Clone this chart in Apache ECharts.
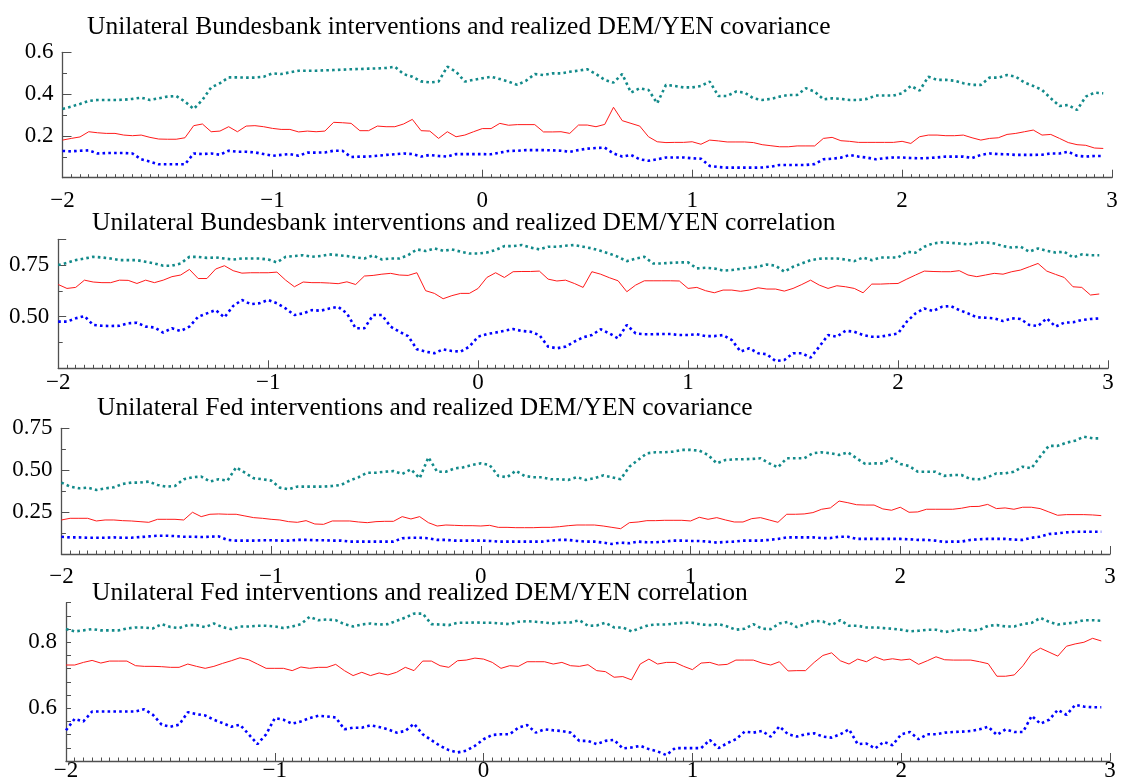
<!DOCTYPE html>
<html>
<head>
<meta charset="utf-8">
<script src="https://cdn.jsdelivr.net/npm/echarts@6/dist/echarts.min.js"></script>
<style>
html,body{margin:0;padding:0;background:#fff;}
#chart{width:1123px;height:782px;}
</style>
</head>
<body>
<div id="chart"></div>
<script>
// x positions: t = -2 + k/24, k = 0..119
const xStart = -2;
const xStep = 1 / 24;

const titles = [
  'Unilateral Bundesbank interventions and realized DEM/YEN covariance',
  'Unilateral Bundesbank interventions and realized DEM/YEN correlation',
  'Unilateral Fed interventions and realized DEM/YEN covariance',
  'Unilateral Fed interventions and realized DEM/YEN correlation'
];

const xTicks = [-2, -1, 0, 1, 2, 3];

// Panel 1: Bundesbank, covariance
const bbCovUpper = [0.329,0.340,0.353,0.367,0.372,0.372,0.372,0.373,0.377,0.383,
0.372,0.380,0.388,0.391,0.364,0.329,0.372,0.432,0.452,0.480,
0.480,0.479,0.479,0.483,0.499,0.496,0.504,0.512,0.512,0.512,
0.514,0.515,0.517,0.519,0.520,0.522,0.523,0.525,0.531,0.496,
0.483,0.461,0.456,0.460,0.531,0.507,0.460,0.468,0.476,0.483,
0.472,0.460,0.444,0.464,0.496,0.491,0.499,
0.499,0.507,0.512,0.519,0.496,0.468,0.455,0.496,0.407,0.428,
0.420,0.356,0.444,0.439,0.432,0.432,0.439,0.460,0.391,0.391,
0.412,0.407,0.380,0.372,0.377,0.388,0.396,0.396,0.428,0.412,
0.375,0.380,0.377,0.372,0.372,0.377,0.393,0.393,0.393,0.404,
0.439,0.417,0.483,0.468,0.468,0.464,0.452,0.444,0.444,0.479,
0.479,0.491,0.483,0.455,0.439,0.420,0.380,0.343,0.348,0.324,
0.388,0.407,0.404];
const bbCovMid = [0.180,0.188,0.195,0.220,0.215,0.212,0.212,0.204,0.201,0.204,
0.193,0.185,0.184,0.184,0.191,0.249,0.257,0.220,0.223,0.244,
0.220,0.247,0.249,0.244,0.236,0.231,0.231,0.219,0.223,0.220,
0.223,0.265,0.263,0.260,0.225,0.225,0.247,0.244,0.244,0.257,
0.279,0.225,0.223,0.188,0.220,0.196,0.204,0.220,0.235,0.235,
0.260,0.251,0.254,0.254,0.254,0.219,0.219,
0.220,0.212,0.252,0.252,0.244,0.255,0.337,0.273,0.260,0.247,
0.196,0.172,0.168,0.169,0.169,0.172,0.160,0.180,0.176,0.171,
0.171,0.171,0.168,0.158,0.153,0.148,0.148,0.152,0.152,0.152,
0.188,0.193,0.177,0.174,0.169,0.169,0.169,0.169,0.169,0.174,
0.164,0.196,0.204,0.204,0.201,0.201,0.204,0.191,0.180,0.188,
0.191,0.207,0.212,0.220,0.228,0.204,0.207,0.188,0.168,0.158,
0.155,0.142,0.140];
const bbCovLower = [0.128,0.126,0.129,0.131,0.116,0.118,0.118,0.118,0.116,0.088,
0.077,0.064,0.064,0.064,0.064,0.116,0.113,0.116,0.110,0.129,
0.124,0.124,0.121,0.113,0.105,0.109,0.113,0.105,0.120,0.120,
0.121,0.129,0.129,0.099,0.101,0.101,0.105,0.109,0.112,0.116,
0.113,0.101,0.109,0.104,0.101,0.113,0.113,0.113,0.113,0.112,
0.120,0.128,0.129,0.132,0.132,0.132,0.131,
0.129,0.124,0.132,0.139,0.142,0.144,0.116,0.101,0.109,0.088,
0.081,0.088,0.097,0.097,0.097,0.093,0.091,0.056,0.051,0.048,
0.048,0.048,0.048,0.049,0.053,0.061,0.061,0.061,0.061,0.065,
0.088,0.091,0.096,0.109,0.101,0.096,0.088,0.093,0.097,0.097,
0.094,0.093,0.094,0.097,0.101,0.101,0.101,0.094,0.109,0.116,
0.113,0.112,0.109,0.109,0.109,0.110,0.116,0.116,0.124,0.105,
0.101,0.104,0.104];

// Panel 2: Bundesbank, correlation
const bbCorUpper = [0.750,0.761,0.774,0.782,0.790,0.787,0.782,0.774,0.774,0.774,
0.766,0.758,0.747,0.747,0.758,0.790,0.790,0.785,0.787,0.782,
0.777,0.782,0.782,0.782,0.777,0.763,0.790,0.794,0.798,0.790,
0.794,0.802,0.798,0.794,0.787,0.782,0.797,0.777,0.782,0.782,
0.798,0.826,0.818,0.831,0.819,0.826,0.815,0.806,0.806,0.811,
0.823,0.842,0.842,0.847,0.835,0.826,0.839,
0.839,0.844,0.847,0.839,0.831,0.819,0.806,0.790,0.769,0.782,
0.790,0.758,0.758,0.761,0.763,0.763,0.734,0.737,0.734,0.723,
0.726,0.732,0.737,0.742,0.753,0.747,0.718,0.742,0.758,0.774,
0.781,0.782,0.782,0.777,0.769,0.787,0.774,0.787,0.787,0.787,
0.815,0.810,0.839,0.855,0.860,0.858,0.855,0.850,0.858,0.860,
0.855,0.842,0.835,0.839,0.815,0.831,0.819,0.811,0.815,0.787,
0.802,0.798,0.798];
const bbCorMid = [0.656,0.637,0.642,0.677,0.668,0.665,0.665,0.677,0.676,0.661,
0.677,0.665,0.677,0.694,0.702,0.729,0.685,0.685,0.731,0.747,
0.723,0.711,0.713,0.713,0.713,0.716,0.677,0.645,0.668,0.665,
0.665,0.663,0.660,0.669,0.656,0.697,0.700,0.706,0.710,0.702,
0.700,0.713,0.626,0.613,0.587,0.602,0.613,0.613,0.637,0.690,
0.713,0.690,0.718,0.719,0.719,0.721,0.682,
0.673,0.677,0.661,0.642,0.718,0.706,0.689,0.674,0.621,0.653,
0.674,0.674,0.674,0.674,0.673,0.637,0.642,0.626,0.616,0.629,
0.629,0.623,0.629,0.640,0.634,0.634,0.624,0.637,0.656,0.677,
0.653,0.637,0.650,0.645,0.637,0.616,0.658,0.658,0.660,0.661,
0.682,0.702,0.721,0.719,0.718,0.718,0.723,0.702,0.694,0.702,
0.710,0.706,0.718,0.726,0.742,0.758,0.721,0.705,0.690,0.645,
0.642,0.605,0.610];
const bbCorLower = [0.476,0.476,0.492,0.503,0.460,0.456,0.455,0.456,0.468,0.471,
0.452,0.448,0.423,0.444,0.431,0.452,0.500,0.516,0.532,0.497,
0.552,0.581,0.561,0.565,0.581,0.565,0.540,0.508,0.516,0.532,
0.529,0.540,0.548,0.516,0.444,0.444,0.508,0.508,0.452,0.427,
0.406,0.342,0.331,0.323,0.342,0.334,0.331,0.355,0.403,0.416,
0.423,0.432,0.440,0.431,0.427,0.411,0.355,
0.347,0.355,0.379,0.400,0.411,0.439,0.419,0.395,0.460,0.419,
0.415,0.415,0.416,0.416,0.411,0.411,0.415,0.406,0.406,0.411,
0.387,0.331,0.347,0.323,0.318,0.285,0.290,0.323,0.323,0.302,
0.355,0.411,0.403,0.432,0.427,0.411,0.403,0.403,0.411,0.419,
0.476,0.516,0.540,0.527,0.548,0.552,0.532,0.516,0.497,0.495,
0.492,0.479,0.492,0.489,0.460,0.455,0.492,0.452,0.471,0.473,
0.484,0.489,0.492];

// Panel 3: Fed, covariance
const fedCovUpper = [0.426,0.402,0.392,0.396,0.382,0.392,0.398,0.418,0.426,0.426,
0.432,0.412,0.402,0.406,0.446,0.458,0.462,0.432,0.446,0.438,
0.517,0.485,0.452,0.446,0.438,0.396,0.386,0.402,0.402,0.402,
0.402,0.406,0.412,0.438,0.458,0.485,0.485,0.491,0.495,0.477,
0.505,0.452,0.577,0.491,0.491,0.511,0.517,0.531,0.541,0.531,
0.466,0.458,0.497,0.466,0.458,0.458,0.446,
0.446,0.442,0.458,0.442,0.452,0.469,0.458,0.446,0.521,0.561,
0.601,0.607,0.607,0.611,0.621,0.621,0.617,0.591,0.541,0.561,
0.565,0.565,0.567,0.571,0.541,0.517,0.571,0.571,0.571,0.601,
0.607,0.601,0.591,0.607,0.571,0.537,0.541,0.541,0.571,0.537,
0.525,0.491,0.491,0.491,0.466,0.471,0.471,0.448,0.446,0.458,
0.481,0.481,0.491,0.521,0.511,0.581,0.645,0.645,0.664,0.676,
0.700,0.690,0.690];
const fedCovMid = [0.203,0.213,0.213,0.213,0.197,0.203,0.203,0.199,0.197,0.193,
0.189,0.207,0.207,0.207,0.203,0.249,0.223,0.237,0.239,0.237,
0.237,0.227,0.217,0.213,0.207,0.203,0.193,0.189,0.199,0.179,
0.177,0.197,0.197,0.197,0.191,0.187,0.193,0.195,0.195,0.223,
0.209,0.223,0.187,0.167,0.173,0.171,0.169,0.169,0.167,0.171,
0.159,0.159,0.157,0.157,0.157,0.159,0.159,
0.163,0.169,0.173,0.173,0.173,0.167,0.159,0.151,0.187,0.191,
0.199,0.199,0.201,0.201,0.201,0.197,0.219,0.207,0.217,0.203,
0.191,0.191,0.211,0.217,0.203,0.189,0.237,0.237,0.239,0.247,
0.267,0.275,0.316,0.306,0.294,0.292,0.292,0.269,0.261,0.279,
0.249,0.251,0.267,0.267,0.267,0.267,0.273,0.283,0.284,0.296,
0.271,0.275,0.267,0.279,0.279,0.271,0.251,0.231,0.235,0.235,
0.235,0.233,0.229];
const fedCovLower = [0.103,0.099,0.099,0.097,0.097,0.097,0.099,0.097,0.097,0.101,
0.105,0.109,0.109,0.107,0.103,0.103,0.101,0.103,0.105,0.084,
0.080,0.080,0.080,0.082,0.082,0.080,0.080,0.084,0.084,0.082,
0.082,0.080,0.080,0.074,0.074,0.074,0.074,0.074,0.074,0.094,
0.097,0.097,0.094,0.084,0.084,0.080,0.080,0.080,0.080,0.078,
0.074,0.074,0.074,0.074,0.074,0.074,0.080,
0.084,0.084,0.078,0.074,0.074,0.068,0.060,0.068,0.064,0.074,
0.070,0.070,0.074,0.080,0.080,0.078,0.078,0.074,0.068,0.072,
0.074,0.080,0.080,0.080,0.084,0.090,0.099,0.099,0.099,0.099,
0.095,0.095,0.103,0.103,0.090,0.090,0.090,0.090,0.090,0.090,
0.088,0.084,0.084,0.080,0.072,0.074,0.074,0.084,0.088,0.090,
0.090,0.090,0.086,0.084,0.097,0.103,0.119,0.123,0.129,0.133,
0.133,0.133,0.133];

// Panel 4: Fed, correlation
const fedCorUpper = [0.840,0.833,0.836,0.840,0.836,0.836,0.836,0.842,0.845,0.845,
0.842,0.855,0.846,0.843,0.852,0.852,0.846,0.857,0.846,0.840,
0.848,0.848,0.850,0.850,0.848,0.843,0.848,0.855,0.877,0.867,
0.869,0.867,0.855,0.848,0.854,0.857,0.854,0.855,0.865,0.875,
0.887,0.887,0.855,0.854,0.852,0.859,0.859,0.860,0.859,0.859,
0.857,0.855,0.862,0.864,0.862,0.860,0.857,
0.860,0.860,0.867,0.850,0.851,0.859,0.845,0.845,0.833,0.843,
0.852,0.854,0.854,0.857,0.859,0.859,0.854,0.852,0.855,0.848,
0.838,0.841,0.855,0.841,0.840,0.857,0.862,0.846,0.855,0.865,
0.863,0.852,0.867,0.850,0.850,0.845,0.845,0.843,0.841,0.838,
0.833,0.835,0.838,0.838,0.831,0.835,0.840,0.835,0.838,0.850,
0.852,0.848,0.848,0.855,0.859,0.874,0.862,0.854,0.857,0.860,
0.867,0.867,0.865];
const fedCorMid = [0.731,0.731,0.739,0.745,0.737,0.743,0.743,0.743,0.729,0.727,
0.727,0.726,0.724,0.724,0.734,0.727,0.721,0.727,0.736,0.744,
0.753,0.747,0.734,0.721,0.721,0.721,0.714,0.725,0.721,0.724,
0.724,0.733,0.714,0.699,0.709,0.699,0.707,0.701,0.709,0.724,
0.714,0.743,0.743,0.729,0.724,0.744,0.746,0.752,0.749,0.739,
0.721,0.729,0.727,0.741,0.741,0.741,0.734,
0.739,0.729,0.727,0.732,0.714,0.711,0.694,0.696,0.686,0.734,
0.749,0.734,0.739,0.739,0.727,0.717,0.737,0.739,0.731,0.733,
0.746,0.746,0.746,0.737,0.731,0.741,0.713,0.714,0.714,0.739,
0.760,0.768,0.744,0.734,0.749,0.741,0.756,0.746,0.750,0.746,
0.749,0.733,0.744,0.756,0.747,0.746,0.746,0.746,0.741,0.735,
0.697,0.697,0.701,0.729,0.766,0.782,0.770,0.758,0.788,0.795,
0.800,0.812,0.804];
const fedCorLower = [0.533,0.568,0.560,0.590,0.590,0.590,0.590,0.590,0.590,0.597,
0.580,0.550,0.544,0.550,0.588,0.582,0.578,0.565,0.555,0.544,
0.550,0.521,0.491,0.521,0.570,0.565,0.553,0.560,0.570,0.577,
0.575,0.572,0.536,0.541,0.541,0.548,0.543,0.536,0.526,0.531,
0.553,0.521,0.503,0.486,0.473,0.466,0.471,0.486,0.506,0.519,
0.521,0.521,0.541,0.549,0.526,0.536,0.533,
0.531,0.526,0.501,0.501,0.491,0.501,0.504,0.478,0.481,0.486,
0.476,0.469,0.458,0.479,0.479,0.479,0.479,0.504,0.479,0.494,
0.506,0.529,0.526,0.531,0.514,0.545,0.521,0.514,0.521,0.524,
0.514,0.511,0.521,0.536,0.491,0.493,0.478,0.498,0.488,0.521,
0.528,0.506,0.521,0.521,0.526,0.528,0.529,0.531,0.536,0.544,
0.519,0.536,0.528,0.528,0.577,0.553,0.565,0.595,0.580,0.610,
0.605,0.603,0.603];

// y-axis tick labels per panel
const yLabels1 = [0.2, 0.4, 0.6];
const yLabels2 = [0.50, 0.75];
const yLabels3 = [0.25, 0.50, 0.75];
const yLabels4 = [0.6, 0.8];

const FONT = 'Liberation Serif';
const TITLE_SIZE = 25.5;
const LABEL_SIZE = 23;
const TEAL = '#128a8a';
const RED = '#ff1a1a';
const BLUE = '#0000ff';
const AXIS_COL = '#505050';

const panels = [
  {series:[bbCovUpper, bbCovMid, bbCovLower], grid:{left:62.5, top:52.3, width:1049.5, height:125.4},
   y:{min:0, max:0.6, interval:0.2, minor:2, tickLen:9, labels:yLabels1, dec:1}, titleLeft:87, titleTop:14, xMargin:12},
  {series:[bbCorUpper, bbCorMid, bbCorLower], grid:{left:58.2, top:239.3, width:1049.8, height:129},
   y:{min:0.25, max:0.875, interval:0.25, minor:2, tickLen:8, labels:yLabels2, dec:2}, titleLeft:92, titleTop:210, xMargin:3},
  {series:[fedCovUpper, fedCovMid, fedCovLower], grid:{left:61.4, top:428.3, width:1048.6, height:125.7},
   y:{min:0, max:0.75, interval:0.25, minor:2, tickLen:8, labels:yLabels3, dec:2}, titleLeft:97, titleTop:395, xMargin:11},
  {series:[fedCorUpper, fedCorMid, fedCorLower], grid:{left:66, top:602.7, width:1044, height:160.6},
   y:{min:0.44, max:0.92, interval:0.04, minor:0, tickLen:5, labels:yLabels4, dec:1}, titleLeft:92, titleTop:580, xMargin:-2}
];

function toPairs(arr) {
  return arr.map((v, k) => [xStart + k * xStep, v]);
}

const option = {
  animation: false,
  backgroundColor: '#fff',
  title: [], grid: [], xAxis: [], yAxis: [], series: []
};

panels.forEach((p, i) => {
  option.title.push({
    text: titles[i], left: p.titleLeft, top: p.titleTop, padding: 0,
    textStyle: {fontFamily: FONT, fontSize: TITLE_SIZE, fontWeight: 'normal', color: '#000'}
  });
  option.grid.push(Object.assign({containLabel: false}, p.grid));
  option.xAxis.push({
    type: 'value', gridIndex: i, min: -2, max: 3, interval: 1,
    axisLine: {show: true, onZero: false, lineStyle: {color: AXIS_COL, width: 1.3}},
    axisTick: {show: true, inside: true, length: 8, lineStyle: {color: AXIS_COL, width: 1}},
    minorTick: {show: true, splitNumber: 24, length: 3.5, lineStyle: {color: AXIS_COL, width: 1}},
    splitLine: {show: false},
    axisLabel: {
      margin: p.xMargin, fontFamily: FONT, fontSize: LABEL_SIZE, color: '#000',
      formatter: v => (v < 0 ? '\u2212' + Math.abs(v) : String(v))
    }
  });
  const labs = p.y.labels;
  option.yAxis.push({
    type: 'value', gridIndex: i, min: p.y.min, max: p.y.max, interval: p.y.interval,
    axisLine: {show: true, onZero: false, lineStyle: {color: AXIS_COL, width: 1.3}},
    axisTick: {show: true, inside: true, length: p.y.tickLen, lineStyle: {color: AXIS_COL, width: 1}},
    minorTick: {show: p.y.minor > 0, splitNumber: p.y.minor || 5, length: 4.5, lineStyle: {color: AXIS_COL, width: 1}},
    splitLine: {show: false},
    axisLabel: {
      margin: 9, fontFamily: FONT, fontSize: LABEL_SIZE, color: '#000',
      showMinLabel: true, showMaxLabel: true,
      formatter: v => {
        for (const l of labs) { if (Math.abs(v - l) < 1e-6) return l.toFixed(p.y.dec); }
        return '';
      }
    }
  });
  const styles = [
    {color: TEAL, width: 2.6, type: [2.6, 3.2], cap: 'butt'},
    {color: RED, width: 1, type: 'solid'},
    {color: BLUE, width: 2.6, type: [2.6, 3.2], cap: 'butt'}
  ];
  p.series.forEach((arr, j) => {
    option.series.push({
      type: 'line', xAxisIndex: i, yAxisIndex: i, data: toPairs(arr),
      symbol: 'none', silent: true, clip: false,
      lineStyle: styles[j]
    });
  });
});

const chart = echarts.init(document.getElementById('chart'), null, {renderer: 'canvas'});
chart.setOption(option);
</script>
</body>
</html>
